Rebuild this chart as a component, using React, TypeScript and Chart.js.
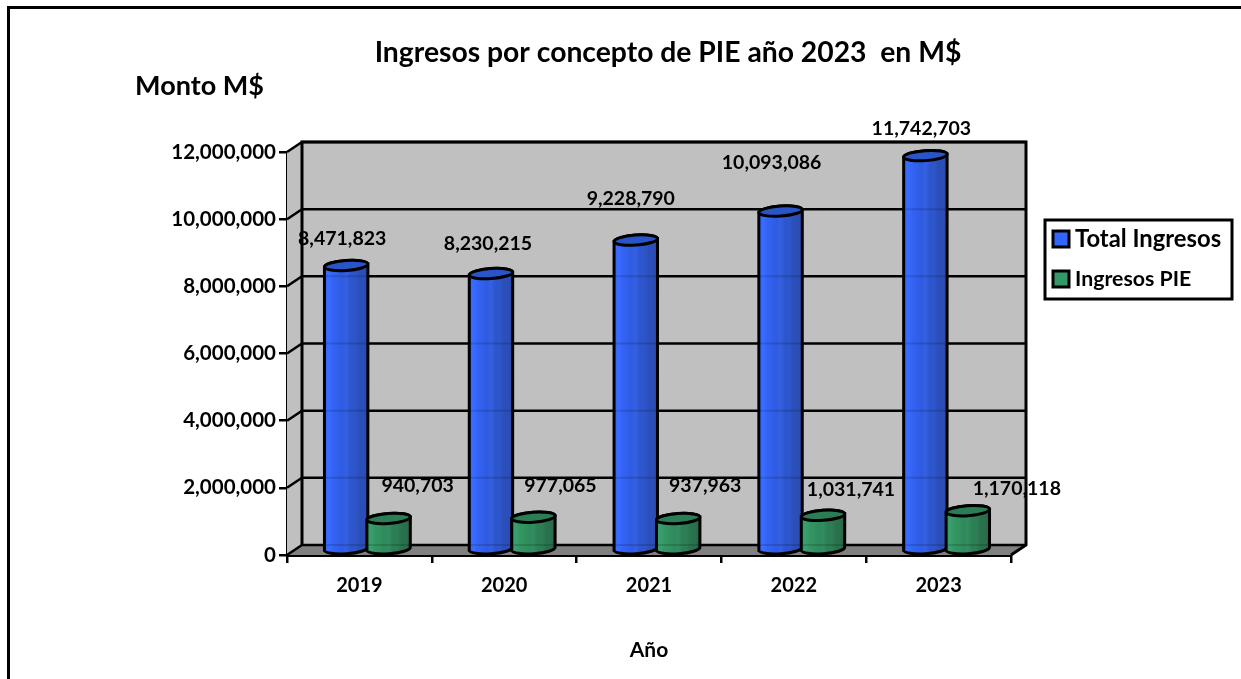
import React, { useEffect, useRef } from "react";
import { Chart, registerables } from "chart.js";

Chart.register(...registerables);

const years = ["2019", "2020", "2021", "2022", "2023"];
const totalIngresos = [8471823, 8230215, 9228790, 10093086, 11742703];
const ingresosPie = [940703, 977065, 937963, 1031741, 1170118];
const seriesNames = ["Total Ingresos", "Ingresos PIE"];
const chartTitle = "Ingresos por concepto de PIE año 2023  en M$";
const valueAxisTitle = "Monto M$";
const categoryAxisTitle = "Año";

const FONT = "Lato, Carlito, sans-serif";
const DEPTH_X = 15;
const DEPTH_Y = -10;
const fmt = (v: number) => v.toLocaleString("en-US");

// hand-placed label offsets from the cylinder top centre
const labelShift = [
  [[-4, -27], [-3, -30], [-5, -41], [-9, -48], [-4, -27]],
  [[29, -33], [27, -31], [27, -33], [28, -26], [49, -22]],
];

const palettes = [
  { swatch: "#3366ff", stops: ["#3366ff", "#3a6cff", "#3263f5", "#3160ea", "#2f5be0", "#3560e0", "#2c55d0", "#2f56c8", "#2a4fbc", "#2c4eb4", "#2a49a8"], cap: "#2a55c8" },
  { swatch: "#339966", stops: ["#339966", "#3a9f6c", "#329564", "#32915f", "#2f8a5c", "#348c60", "#2b7f54", "#2e7d55", "#28724c", "#2a6f4d", "#256444"], cap: "#2a7d55" },
];

function cylinder(ctx: CanvasRenderingContext2D, x: number, top: number, bottom: number, w: number, p: { stops: string[]; cap: string }, yScale: any) {
  const rx = w / 2;
  const ry = 5;
  const rot = -0.07;
  const dy = Math.sin(rot) * rx;
  const g = ctx.createLinearGradient(x - rx, 0, x + rx, 0);
  p.stops.forEach((c, i) => g.addColorStop(i / (p.stops.length - 1), c));
  const outline = () => {
    ctx.beginPath();
    ctx.moveTo(x - rx, top - dy);
    ctx.lineTo(x - rx, bottom - dy);
    ctx.ellipse(x, bottom, rx, ry, rot, Math.PI, 0, true);
    ctx.lineTo(x + rx, top + dy);
    ctx.ellipse(x, top, rx, ry, rot, 0, Math.PI, true);
    ctx.closePath();
  };
  ctx.save();
  ctx.lineWidth = 3;
  ctx.strokeStyle = "#000";
  outline();
  ctx.fillStyle = g;
  ctx.fill();
  // the back-wall grid lines show faintly through the cylinder
  ctx.save();
  outline();
  ctx.clip();
  ctx.strokeStyle = "rgba(0,0,0,0.14)";
  ctx.lineWidth = 2;
  yScale.ticks.forEach((t: any) => {
    const py = yScale.getPixelForValue(t.value) + DEPTH_Y;
    ctx.beginPath();
    ctx.moveTo(x - rx, py);
    ctx.lineTo(x + rx, py);
    ctx.stroke();
  });
  ctx.restore();
  outline();
  ctx.stroke();
  ctx.beginPath();
  ctx.ellipse(x, top, rx, ry, rot, 0, Math.PI * 2);
  ctx.fillStyle = p.cap;
  ctx.fill();
  ctx.stroke();
  ctx.restore();
}

const scenePlugin = {
  id: "scene",
  beforeDatasetsDraw(chart: any) {
    const { ctx, chartArea: a, scales } = chart;
    const y = scales.y;
    ctx.save();
    ctx.lineJoin = "miter";
    ctx.fillStyle = "#c0c0c0";
    ctx.fillRect(a.left + DEPTH_X, a.top + DEPTH_Y, a.right - a.left, a.bottom - a.top);
    ctx.beginPath();
    ctx.moveTo(a.left, a.top);
    ctx.lineTo(a.left + DEPTH_X, a.top + DEPTH_Y);
    ctx.lineTo(a.left + DEPTH_X, a.bottom + DEPTH_Y);
    ctx.lineTo(a.left, a.bottom);
    ctx.closePath();
    ctx.fill();
    ctx.beginPath();
    ctx.moveTo(a.left, a.bottom);
    ctx.lineTo(a.left + DEPTH_X, a.bottom + DEPTH_Y);
    ctx.lineTo(a.right + DEPTH_X, a.bottom + DEPTH_Y);
    ctx.lineTo(a.right, a.bottom);
    ctx.closePath();
    ctx.fillStyle = "#808080";
    ctx.fill();
    ctx.strokeStyle = "#000";
    ctx.lineWidth = 2.5;
    y.ticks.forEach((t: any) => {
      const py = y.getPixelForValue(t.value);
      ctx.beginPath();
      ctx.moveTo(a.left, py);
      ctx.lineTo(a.left + DEPTH_X, py + DEPTH_Y);
      ctx.lineTo(a.right + DEPTH_X, py + DEPTH_Y);
      ctx.stroke();
    });
    ctx.lineWidth = 3;
    ctx.beginPath();
    ctx.moveTo(a.left + DEPTH_X, a.bottom + DEPTH_Y);
    ctx.lineTo(a.left + DEPTH_X, a.top + DEPTH_Y);
    ctx.lineTo(a.right + DEPTH_X, a.top + DEPTH_Y);
    ctx.lineTo(a.right + DEPTH_X, a.bottom + DEPTH_Y);
    ctx.lineTo(a.right, a.bottom);
    ctx.stroke();
    ctx.restore();
  },
  afterDatasetsDraw(chart: any) {
    const { ctx, scales } = chart;
    const metas = [chart.getDatasetMeta(0), chart.getDatasetMeta(1)];
    const nudge = [1, 0];
    years.forEach((_, i) => {
      metas.forEach((m: any, k: number) => {
        const el = m.data[i];
        cylinder(ctx, el.x + DEPTH_X / 2 + nudge[k], el.y + DEPTH_Y / 2, el.base + DEPTH_Y / 2, el.width, palettes[k], scales.y);
      });
    });
    ctx.save();
    ctx.fillStyle = "#000";
    ctx.textAlign = "center";
    ctx.textBaseline = "middle";
    ctx.font = `bold 19.5px ${FONT}`;
    metas.forEach((m: any, k: number) => {
      m.data.forEach((el: any, i: number) => {
        const v = chart.data.datasets[k].data[i];
        const s = labelShift[k][i];
        ctx.fillText(fmt(v), el.x + DEPTH_X / 2 + nudge[k] + s[0], el.y + DEPTH_Y / 2 + s[1]);
      });
    });
    ctx.font = `bold 28.3px ${FONT}`;
    ctx.fillText(chartTitle, 668, 53);
    ctx.font = `bold 27px ${FONT}`;
    ctx.fillText(valueAxisTitle, 199.5, 86);
    ctx.lineWidth = 3;
    ctx.strokeStyle = "#000";
    ctx.beginPath();
    ctx.moveTo(8.5, 680);
    ctx.lineTo(8.5, 7.5);
    ctx.lineTo(1242, 7.5);
    ctx.stroke();
    ctx.fillStyle = "#fff";
    ctx.fillRect(1045, 220, 187, 79);
    ctx.strokeRect(1045, 220, 187, 79);
    const rows = [
      { y: 239, size: 23.8 },
      { y: 279, size: 21.3 },
    ];
    rows.forEach((r, k) => {
      ctx.fillStyle = palettes[k].swatch;
      ctx.fillRect(1053, r.y - 8, 16, 16);
      ctx.strokeRect(1053, r.y - 8, 16, 16);
      ctx.fillStyle = "#000";
      ctx.textAlign = "left";
      ctx.font = `bold ${r.size}px ${FONT}`;
      ctx.fillText(seriesNames[k], 1075, r.y);
    });
    ctx.restore();
  },
};

export default function App() {
  const ref = useRef<HTMLCanvasElement>(null);
  useEffect(() => {
    document.body.style.margin = "0";
    document.body.style.background = "#fff";
    const chart = new Chart(ref.current!, {
      type: "bar",
      plugins: [scenePlugin],
      data: {
        labels: years,
        datasets: [
          { label: seriesNames[0], data: totalIngresos, backgroundColor: "transparent", borderWidth: 0 },
          { label: seriesNames[1], data: ingresosPie, backgroundColor: "transparent", borderWidth: 0 },
        ],
      },
      options: {
        animation: false,
        responsive: false,
        devicePixelRatio: 1,
        layout: { padding: { left: 0, top: 152, right: 230, bottom: 16 } },
        datasets: { bar: { categoryPercentage: 0.6, barPercentage: 1 } },
        plugins: { legend: { display: false }, title: { display: false }, tooltip: { enabled: false } },
        scales: {
          x: {
            afterFit: (s: any) => { s.height = 108; },
            grid: { drawOnChartArea: false, color: "#000", lineWidth: 2.5, tickLength: 8 },
            border: { display: true, color: "#000", width: 3 },
            ticks: { color: "#000", font: { family: FONT, weight: "bold", size: 20 }, padding: 11, maxRotation: 0 },
            title: { display: true, text: categoryAxisTitle, color: "#000", font: { family: FONT, weight: "bold", size: 21 }, padding: { top: 3, bottom: 0 } },
          },
          y: {
            min: 0,
            max: 12000000,
            afterFit: (s: any) => { s.width = 287; },
            grid: { drawOnChartArea: false, color: "#000", lineWidth: 2.5, tickLength: 8 },
            border: { display: true, color: "#000", width: 3 },
            ticks: { stepSize: 2000000, color: "#000", font: { family: FONT, weight: "bold", size: 20.5 }, padding: 3, callback: (v: any) => fmt(Number(v)) },
          },
        },
      },
    } as any);
    return () => chart.destroy();
  }, []);
  return <canvas ref={ref} width={1241} height={679} style={{ display: "block", position: "fixed", left: 0, top: 0 }} />;
}
